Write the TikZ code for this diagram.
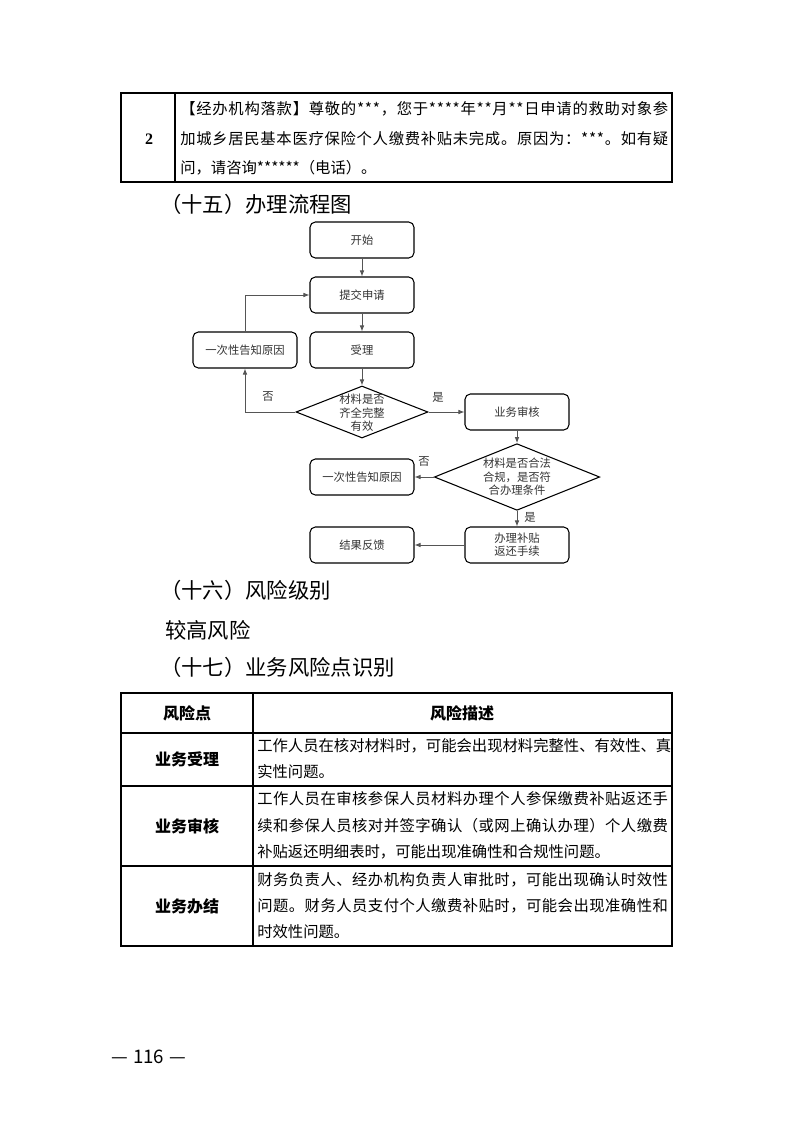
\documentclass[tikz,border=0pt]{standalone}
\usepackage{fontspec}
\setmainfont{Noto Sans CJK SC}
\newfontfamily\cjk{Noto Sans CJK SC}
\newfontfamily\tnr{Liberation Serif}
\usetikzlibrary{shapes.geometric,arrows.meta}
\ExplSyntaxOn
\NewDocumentCommand\sline{mm}{\hbox to #1{\tl_map_inline:nn{#2}{##1\hfil}\unskip}}
\ExplSyntaxOff
\definecolor{ftext}{HTML}{333333}
\definecolor{fline}{HTML}{555555}
\tikzset{
  fbox/.style={draw=black, line width=0.8pt, rounded corners=4pt, minimum width=78pt, minimum height=27pt, inner sep=1pt, font=\fontsize{8.5}{10}\selectfont, text=ftext, align=center},
  fdia/.style={draw=black, line width=0.8pt, diamond, inner sep=0pt},
  ftxt/.style={font=\fontsize{8.5}{10}\selectfont, text=ftext, align=center, inner sep=0pt},
  farr/.style={draw=fline, line width=0.7pt, -{Latex[length=4.5pt,width=3.5pt]}},
  heading/.style={anchor=west, inner sep=0pt, font=\fontsize{16}{16}\selectfont},
  tline/.style={anchor=west, inner sep=0pt, font=\fontsize{11.5}{12}\selectfont},
  tborder/.style={draw=black, line width=0.9pt},
  lab/.style={inner sep=0pt, font=\fontsize{12}{12}\selectfont\bfseries},
}
\begin{document}
\begin{tikzpicture}[x=0.75pt,y=-0.75pt]
\useasboundingbox[fill=white] (0,0) rectangle (793,1122);

% ---------- top table ----------
\draw[tborder] (121,93) rectangle (672,182);
\draw[tborder] (175,93) -- (175,182);
\node[inner sep=0pt, font=\fontsize{12}{12}\tnr\bfseries] (num2) at (149,139) {2};
\node[tline] (t1) at (180,109) {\sline{366pt}{【经办机构落款】尊敬的***，您于****年**月**日申请的救助对象参}};
\node[tline] (t2) at (180,139) {\sline{366pt}{加城乡居民基本医疗保险个人缴费补贴未完成。原因为：***。如有疑}};
\node[tline] (t3) at (180,168) {问，请咨询******（电话）。};

% ---------- heading 15 ----------
\node[heading] (h15) at (160,204) {（十五）办理流程图};

% ---------- flowchart ----------
\node[fbox] (start) at (362,240) {开始};
\node[fbox] (submit) at (362,295) {提交申请};
\node[fbox] (accept) at (362,350) {受理};
\node[fbox] (notify1) at (245,350) {一次性告知原因};
\node[fdia, minimum width=99pt, minimum height=39pt] (d1) at (362,412) {};
\node[ftxt] (d1t) at (362,413) {材料是否\\齐全完整\\有效};
\node[fbox] (review) at (517,412) {业务审核};
\node[fdia, minimum width=124pt, minimum height=50pt] (d2) at (517,477) {};
\node[ftxt] (d2t) at (517,477) {材料是否合法\\合规，是否符\\合办理条件};
\node[fbox] (notify2) at (362,477) {一次性告知原因};
\node[fbox] (handle) at (517,545) {办理补贴\\返还手续};
\node[fbox] (result) at (362,545) {结果反馈};

\draw[farr] (start) -- (submit);
\draw[farr] (submit) -- (accept);
\draw[farr] (accept) -- (d1.north);
\draw[farr] (d1.west) -| (notify1.south);
\draw[farr] (notify1.north) |- (submit.west);
\draw[farr] (d1.east) -- (review.west);
\draw[farr] (review.south) -- (d2.north);
\draw[farr] (d2.west) -- (notify2.east);
\draw[farr] (d2.south) -- (handle.north);
\draw[farr] (handle.west) -- (result.east);

\node[ftxt] (no1) at (268,397) {否};
\node[ftxt] (yes1) at (438,397) {是};
\node[ftxt] (no2) at (424,462) {否};
\node[ftxt] (yes2) at (530,517) {是};

% ---------- headings 16/17 ----------
\node[heading] (h16) at (160,590) {（十六）风险级别};
\node[heading] (h16b) at (165,630) {较高风险};
\node[heading] (h17) at (160,667) {（十七）业务风险点识别};

% ---------- bottom table ----------
\draw[tborder] (121,693) rectangle (672,946);
\draw[tborder] (253,693) -- (253,946);
\draw[tborder] (121,733) -- (672,733);
\draw[tborder] (121,786) -- (672,786);
\draw[tborder] (121,866) -- (672,866);

\node[lab] (hd1) at (187,713) {风险点};
\node[lab] (hd2) at (462,713) {风险描述};

\node[lab] (r1) at (187,759) {业务受理};
\node[tline] (r1a) at (257,746) {\sline{308pt}{工作人员在核对材料时，可能会出现材料完整性、有效性、真}};
\node[tline] (r1b) at (257,772) {实性问题。};

\node[lab] (r2) at (187,826) {业务审核};
\node[tline] (r2a) at (257,799) {\sline{308pt}{工作人员在审核参保人员材料办理个人参保缴费补贴返还手}};
\node[tline] (r2b) at (257,826) {\sline{308pt}{续和参保人员核对并签字确认（或网上确认办理）个人缴费}};
\node[tline] (r2c) at (257,852) {补贴返还明细表时，可能出现准确性和合规性问题。};

\node[lab] (r3) at (187,906) {业务办结};
\node[tline] (r3a) at (257,880) {\sline{308pt}{财务负责人、经办机构负责人审批时，可能出现确认时效性}};
\node[tline] (r3b) at (257,906) {\sline{308pt}{问题。财务人员支付个人缴费补贴时，可能会出现准确性和}};
\node[tline] (r3c) at (257,932) {时效性问题。};

% ---------- page number ----------
\node[anchor=west, inner sep=0pt, font=\fontsize{14}{14}\selectfont] (pg) at (111,1057) {—\hspace{4pt}116\hspace{4pt}—};
\end{tikzpicture}
\end{document}
